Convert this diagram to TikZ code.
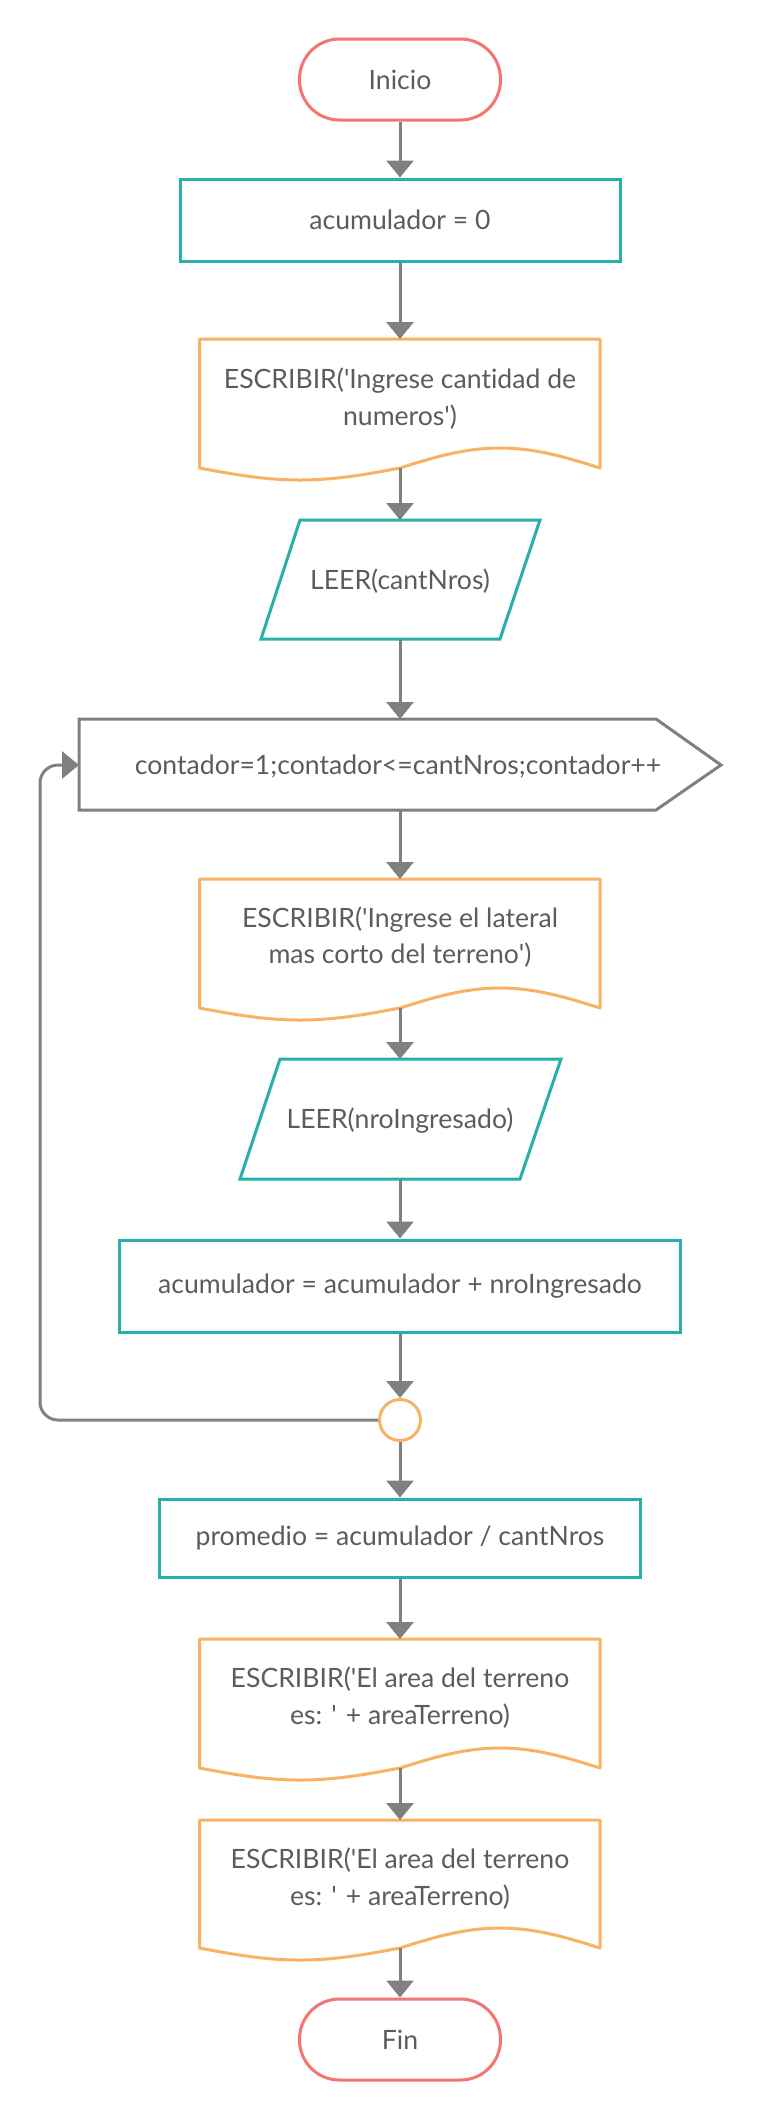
\documentclass[tikz,border=0pt]{standalone}
\usepackage{fontspec}
\setmainfont{Lato}[Ligatures={NoCommon}]
\usetikzlibrary{arrows.meta}
\definecolor{termred}{HTML}{F47474}
\definecolor{procteal}{HTML}{27AFAB}
\definecolor{docorange}{HTML}{F8B263}
\definecolor{conngray}{HTML}{808080}
\definecolor{txtgray}{HTML}{5C5C5C}
\newcommand\docshp[2]{%
  \draw[docst] (199.5,#1) -- (600,#1) -- (600,#2) sin (500,#2-20) cos (400,#2) sin (300,#2+12) cos (199.5,#2) -- cycle;}
\newcommand\q{\textquotesingle}
\begin{document}
\begin{tikzpicture}[x=1pt,y=-1pt,
  every node/.style={font=\fontsize{26.6}{36.5}\selectfont, text=txtgray},
  term/.style={draw=termred, line width=3pt, rounded corners=40pt, minimum width=201pt, minimum height=81pt, fill=white},
  proc/.style={draw=procteal, line width=3pt, fill=white},
  docst/.style={draw=docorange, line width=3pt, fill=white, line join=round},
  iost/.style={draw=procteal, line width=3pt, fill=white, line join=miter},
  loopst/.style={draw=conngray, line width=3pt, fill=white},
  lbl/.style={align=center, inner sep=0pt},
  conn/.style={draw=conngray, line width=3pt, -{Triangle[width=27pt,length=17pt]}},
]
\useasboundingbox (0,0) rectangle (761,2121);
\fill[white] (0,0) rectangle (761,2121);

% Inicio
\node[term] (inicio) at (400,79.5) {Inicio};

% acumulador = 0
\node[proc, minimum width=440pt, minimum height=82pt] (acum0) at (400,220) {acumulador = 0};

% doc1
\docshp{339}{468}
\node[lbl] (doc1) at (400,398.5) {ESCRIBIR(\q Ingrese cantidad de\\numeros\q)};
\coordinate (doc1t) at (400,339);
\coordinate (doc1b) at (400,468);

% LEER(cantNros)
\draw[iost] (300,520) -- (540,520) -- (500,639) -- (261,639) -- cycle;
\node[lbl] (leer1) at (400,581) {LEER(cantNros)};
\coordinate (leer1t) at (400,520);
\coordinate (leer1b) at (400,639);

% loop header
\draw[loopst, line join=miter] (79,719) -- (656,719) -- (721,765) -- (656,810) -- (79,810) -- cycle;
\node[lbl] (loop) at (398,766) {contador=1;contador<=cantNros;contador++};
\coordinate (loopt) at (400,719);
\coordinate (loopb) at (400,810);
\coordinate (loopw) at (79,765);

% doc2
\docshp{879}{1008}
\node[lbl] (doc2) at (400,937) {ESCRIBIR(\q Ingrese el lateral\\mas corto del terreno\q)};
\coordinate (doc2t) at (400,879);
\coordinate (doc2b) at (400,1008);

% LEER(nroIngresado)
\draw[iost] (280,1059) -- (561,1059) -- (520,1179) -- (240,1179) -- cycle;
\node[lbl] (leer2) at (400,1121) {LEER(nroIngresado)};
\coordinate (leer2t) at (400,1059);
\coordinate (leer2b) at (400,1179);

% acumulador = acumulador + nroIngresado
\node[proc, minimum width=561pt, minimum height=92pt] (acum) at (400,1286) {acumulador = acumulador + nroIngresado};

% connector circle
\node[circle, draw=docorange, line width=3pt, minimum size=41pt, inner sep=0pt, fill=white] (junc) at (400,1420) {};

% promedio
\node[proc, minimum width=481pt, minimum height=78pt] (prom) at (400,1538) {promedio = acumulador / cantNros};

% doc3
\docshp{1639}{1768}
\node[lbl] (doc3) at (400,1697.5) {ESCRIBIR(\q El area del terreno\\es: \q{} + areaTerreno)};
\coordinate (doc3t) at (400,1639);
\coordinate (doc3b) at (400,1768);

% doc4
\docshp{1820}{1948}
\node[lbl] (doc4) at (400,1878.5) {ESCRIBIR(\q El area del terreno\\es: \q{} + areaTerreno)};
\coordinate (doc4t) at (400,1820);
\coordinate (doc4b) at (400,1948);

% Fin
\node[term] (fin) at (400,2039.5) {Fin};

% connectors
\draw[conn] (inicio.south) -- (acum0.north);
\draw[conn] (acum0.south) -- (doc1t);
\draw[conn] (doc1b) -- (leer1t);
\draw[conn] (leer1b) -- (loopt);
\draw[conn] (loopb) -- (doc2t);
\draw[conn] (doc2b) -- (leer2t);
\draw[conn] (leer2b) -- (acum.north);
\draw[conn] (acum.south) -- (junc.north);
\draw[conn] (junc.south) -- (prom.north);
\draw[conn] (prom.south) -- (doc3t);
\draw[conn] (doc3b) -- (doc4t);
\draw[conn] (doc4b) -- (fin.north);
\draw[conn, rounded corners=18pt] (junc.west) -- (40,1420) -- (40,765) -- (loopw);
\end{tikzpicture}
\end{document}
